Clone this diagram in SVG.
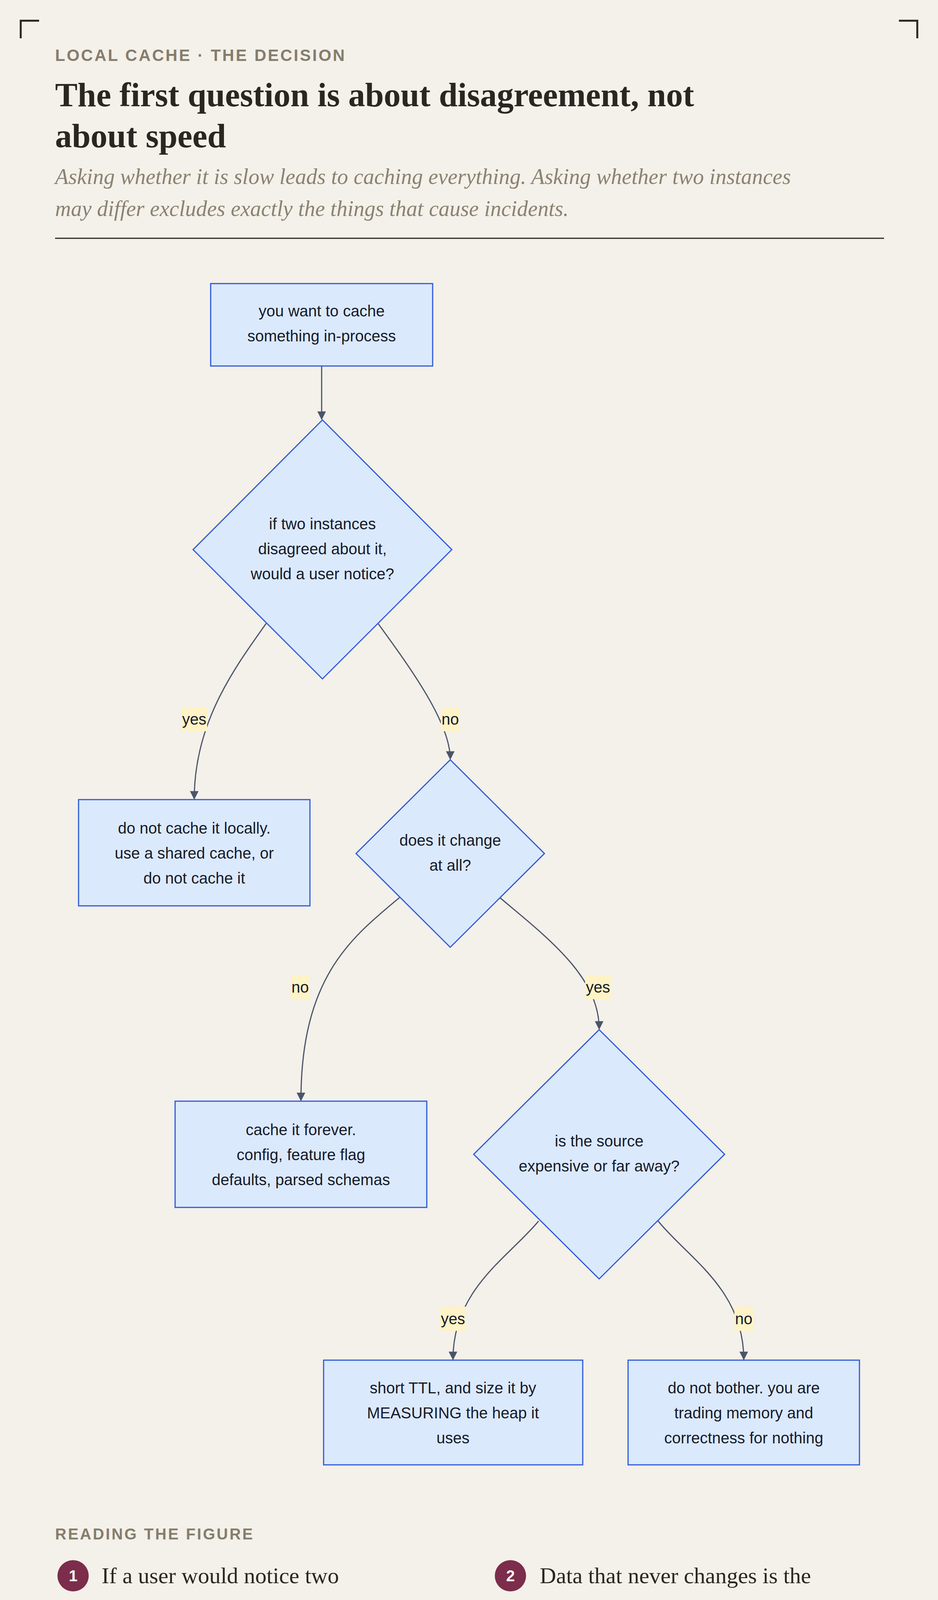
<svg xmlns="http://www.w3.org/2000/svg" width="2400" height="5528" viewBox="0 0 2400 5528">
<defs>
<marker id="ah" viewBox="0 0 10 10" refX="9" refY="5" markerWidth="22" markerHeight="22" markerUnits="userSpaceOnUse" orient="auto"><path d="M0,0 L10,5 L0,10 z" fill="#4a5568"/></marker>
<style>
.nd{fill:#dbe9fc;stroke:#2f5bd8;stroke-width:3}
.nt{font-family:"Liberation Sans",Arial,sans-serif;font-size:40px;fill:#161a2b;text-anchor:middle}
.ed{fill:none;stroke:#4a5568;stroke-width:3;marker-end:url(#ah)}
.lb{fill:#fdf3c6}
.lt{font-family:"Liberation Sans",Arial,sans-serif;font-size:40px;fill:#161a2b;text-anchor:middle}
.cn{fill:none;stroke:#2b2621;stroke-width:5}
.it{font-family:"Liberation Serif","Times New Roman",serif;font-size:58px;fill:#2b2621}
.nc{fill:#7b2d4b}
.nn{font-family:"Liberation Sans",Arial,sans-serif;font-size:40px;font-weight:bold;fill:#fff;text-anchor:middle}
</style>
</defs>
<rect width="2400" height="5528" fill="#f4f0ea"/>
<g id="corners">
<path class="cn" d="M53,98 V53 H100"/><path class="cn" d="M2347,98 V53 H2300"/>
<path class="cn" d="M53,5430 V5475 H100"/><path class="cn" d="M2347,5430 V5475 H2300"/>
</g>
<g id="header">
<text x="141" y="156" font-family="Liberation Sans,Arial,sans-serif" font-weight="bold" font-size="42" letter-spacing="4" fill="#857d6c">LOCAL CACHE · THE DECISION</text>
<text font-family="Liberation Serif,Times New Roman,serif" font-weight="bold" font-size="86" fill="#2b2621"><tspan x="141" y="272">The first question is about disagreement, not</tspan><tspan x="141" y="377">about speed</tspan></text>
<text font-family="Liberation Serif,Times New Roman,serif" font-style="italic" font-size="56" fill="#8a8270"><tspan x="141" y="471">Asking whether it is slow leads to caching everything. Asking whether two instances</tspan><tspan x="141" y="553">may differ excludes exactly the things that cause incidents.</tspan></text>
<line x1="141" y1="610" x2="2262" y2="610" stroke="#2b2621" stroke-width="3"/>
</g>
<g id="connectors">
<path class="ed" d="M823,937 L823,1073"/>
<path class="ed" d="M681,1596 C600,1710 497,1850 497,2045"/>
<path class="ed" d="M968,1597 C1050,1710 1152,1850 1152,1943"/>
<path class="ed" d="M1022,2298 C900,2400 770,2500 770,2817"/>
<path class="ed" d="M1279,2298 C1400,2400 1533,2500 1533,2634"/>
<path class="ed" d="M1378,3126 C1300,3220 1159,3300 1159,3480"/>
<path class="ed" d="M1684,3126 C1760,3220 1903,3300 1903,3480"/>
<rect class="lb" x="464" y="1810" width="66" height="62"/><text class="lt" x="497" y="1855">yes</text>
<rect class="lb" x="1128" y="1810" width="48" height="62"/><text class="lt" x="1152" y="1855">no</text>
<rect class="lb" x="744" y="2496" width="48" height="62"/><text class="lt" x="768" y="2541">no</text>
<rect class="lb" x="1497" y="2496" width="66" height="62"/><text class="lt" x="1530" y="2541">yes</text>
<rect class="lb" x="1126" y="3345" width="66" height="62"/><text class="lt" x="1159" y="3390">yes</text>
<rect class="lb" x="1879" y="3345" width="48" height="62"/><text class="lt" x="1903" y="3390">no</text>
</g>
<g id="n1"><rect class="nd" x="539" y="726" width="568" height="211"/><text class="nt"><tspan x="823" y="810">you want to cache</tspan><tspan x="823" y="874">something in-process</tspan></text></g>
<g id="d1"><path class="nd" d="M825,1075 L1156,1407 L825,1738 L494,1407 z"/><text class="nt"><tspan x="825" y="1355">if two instances</tspan><tspan x="825" y="1419">disagreed about it,</tspan><tspan x="825" y="1483">would a user notice?</tspan></text></g>
<g id="n2"><rect class="nd" x="201" y="2047" width="592" height="272"/><text class="nt"><tspan x="497" y="2134">do not cache it locally.</tspan><tspan x="497" y="2198">use a shared cache, or</tspan><tspan x="497" y="2262">do not cache it</tspan></text></g>
<g id="d2"><path class="nd" d="M1152,1945 L1393,2185 L1152,2425 L911,2185 z"/><text class="nt"><tspan x="1152" y="2165">does it change</tspan><tspan x="1152" y="2229">at all?</tspan></text></g>
<g id="n3"><rect class="nd" x="448" y="2819" width="644" height="272"/><text class="nt"><tspan x="770" y="2906">cache it forever.</tspan><tspan x="770" y="2970">config, feature flag</tspan><tspan x="770" y="3034">defaults, parsed schemas</tspan></text></g>
<g id="d3"><path class="nd" d="M1533,2636 L1854,2955 L1533,3274 L1212,2955 z"/><text class="nt"><tspan x="1533" y="2935">is the source</tspan><tspan x="1533" y="2999">expensive or far away?</tspan></text></g>
<g id="n4"><rect class="nd" x="828" y="3482" width="663" height="268"/><text class="nt"><tspan x="1159" y="3567">short TTL, and size it by</tspan><tspan x="1159" y="3631">MEASURING the heap it</tspan><tspan x="1159" y="3695">uses</tspan></text></g>
<g id="n5"><rect class="nd" x="1607" y="3482" width="592" height="268"/><text class="nt"><tspan x="1903" y="3567">do not bother. you are</tspan><tspan x="1903" y="3631">trading memory and</tspan><tspan x="1903" y="3695">correctness for nothing</tspan></text></g>
<g id="reading">
<text x="141" y="3941" font-family="Liberation Sans,Arial,sans-serif" font-weight="bold" font-size="40" letter-spacing="4" fill="#857d6c">READING THE FIGURE</text>
<circle class="nc" cx="187" cy="4034" r="40"/><text class="nn" x="187" y="4048">1</text>
<text class="it"><tspan x="260" y="4053">If a user would notice two</tspan><tspan x="260" y="4141">instances disagreeing, a local</tspan><tspan x="260" y="4229">cache is the wrong tool.</tspan></text>
<circle class="nc" cx="1306" cy="4034" r="40"/><text class="nn" x="1306" y="4048">2</text>
<text class="it"><tspan x="1381" y="4053">Data that never changes is the</tspan><tspan x="1381" y="4141">ideal case, and it is more</tspan><tspan x="1381" y="4229">common than people expect.</tspan></text>
<circle class="nc" cx="187" cy="4338" r="40"/><text class="nn" x="187" y="4352">3</text>
<text class="it"><tspan x="260" y="4357">Configuration, parsed schemas</tspan><tspan x="260" y="4445">and compiled templates all</tspan><tspan x="260" y="4533">belong here.</tspan></text>
<circle class="nc" cx="1306" cy="4338" r="40"/><text class="nn" x="1306" y="4352">4</text>
<text class="it"><tspan x="1381" y="4357">And if the source is already</tspan><tspan x="1381" y="4445">fast, a local cache is pure cost</tspan><tspan x="1381" y="4533">with no benefit.</tspan></text>
</g>
<g id="rule">
<line x1="141" y1="4741" x2="2262" y2="4741" stroke="#d3cdc4" stroke-width="3"/>
<text x="141" y="4867" font-family="Liberation Serif,Times New Roman,serif" font-weight="bold" font-size="76" fill="#2b2621">The single rule</text>
<text font-family="Liberation Serif,Times New Roman,serif" font-size="62" fill="#2b2621"><tspan x="141" y="4983">Almost everything that is genuinely safe in a local cache is something</tspan><tspan x="141" y="5082">that does not change during the life of the process. Once you are caching</tspan><tspan x="141" y="5180">something mutable in-process, you have accepted the divergence</tspan><tspan x="141" y="5279">window, and the only remaining question is how long it is.</tspan></text>
<rect x="141" y="5364" width="22" height="22" fill="#7b2d4b"/>
<text x="183" y="5388" font-family="Liberation Serif,Times New Roman,serif" font-weight="bold" font-size="40" letter-spacing="4" fill="#7b2d4b">SYSTEMDESIGN.ACADEMY</text>
</g>
</svg>
